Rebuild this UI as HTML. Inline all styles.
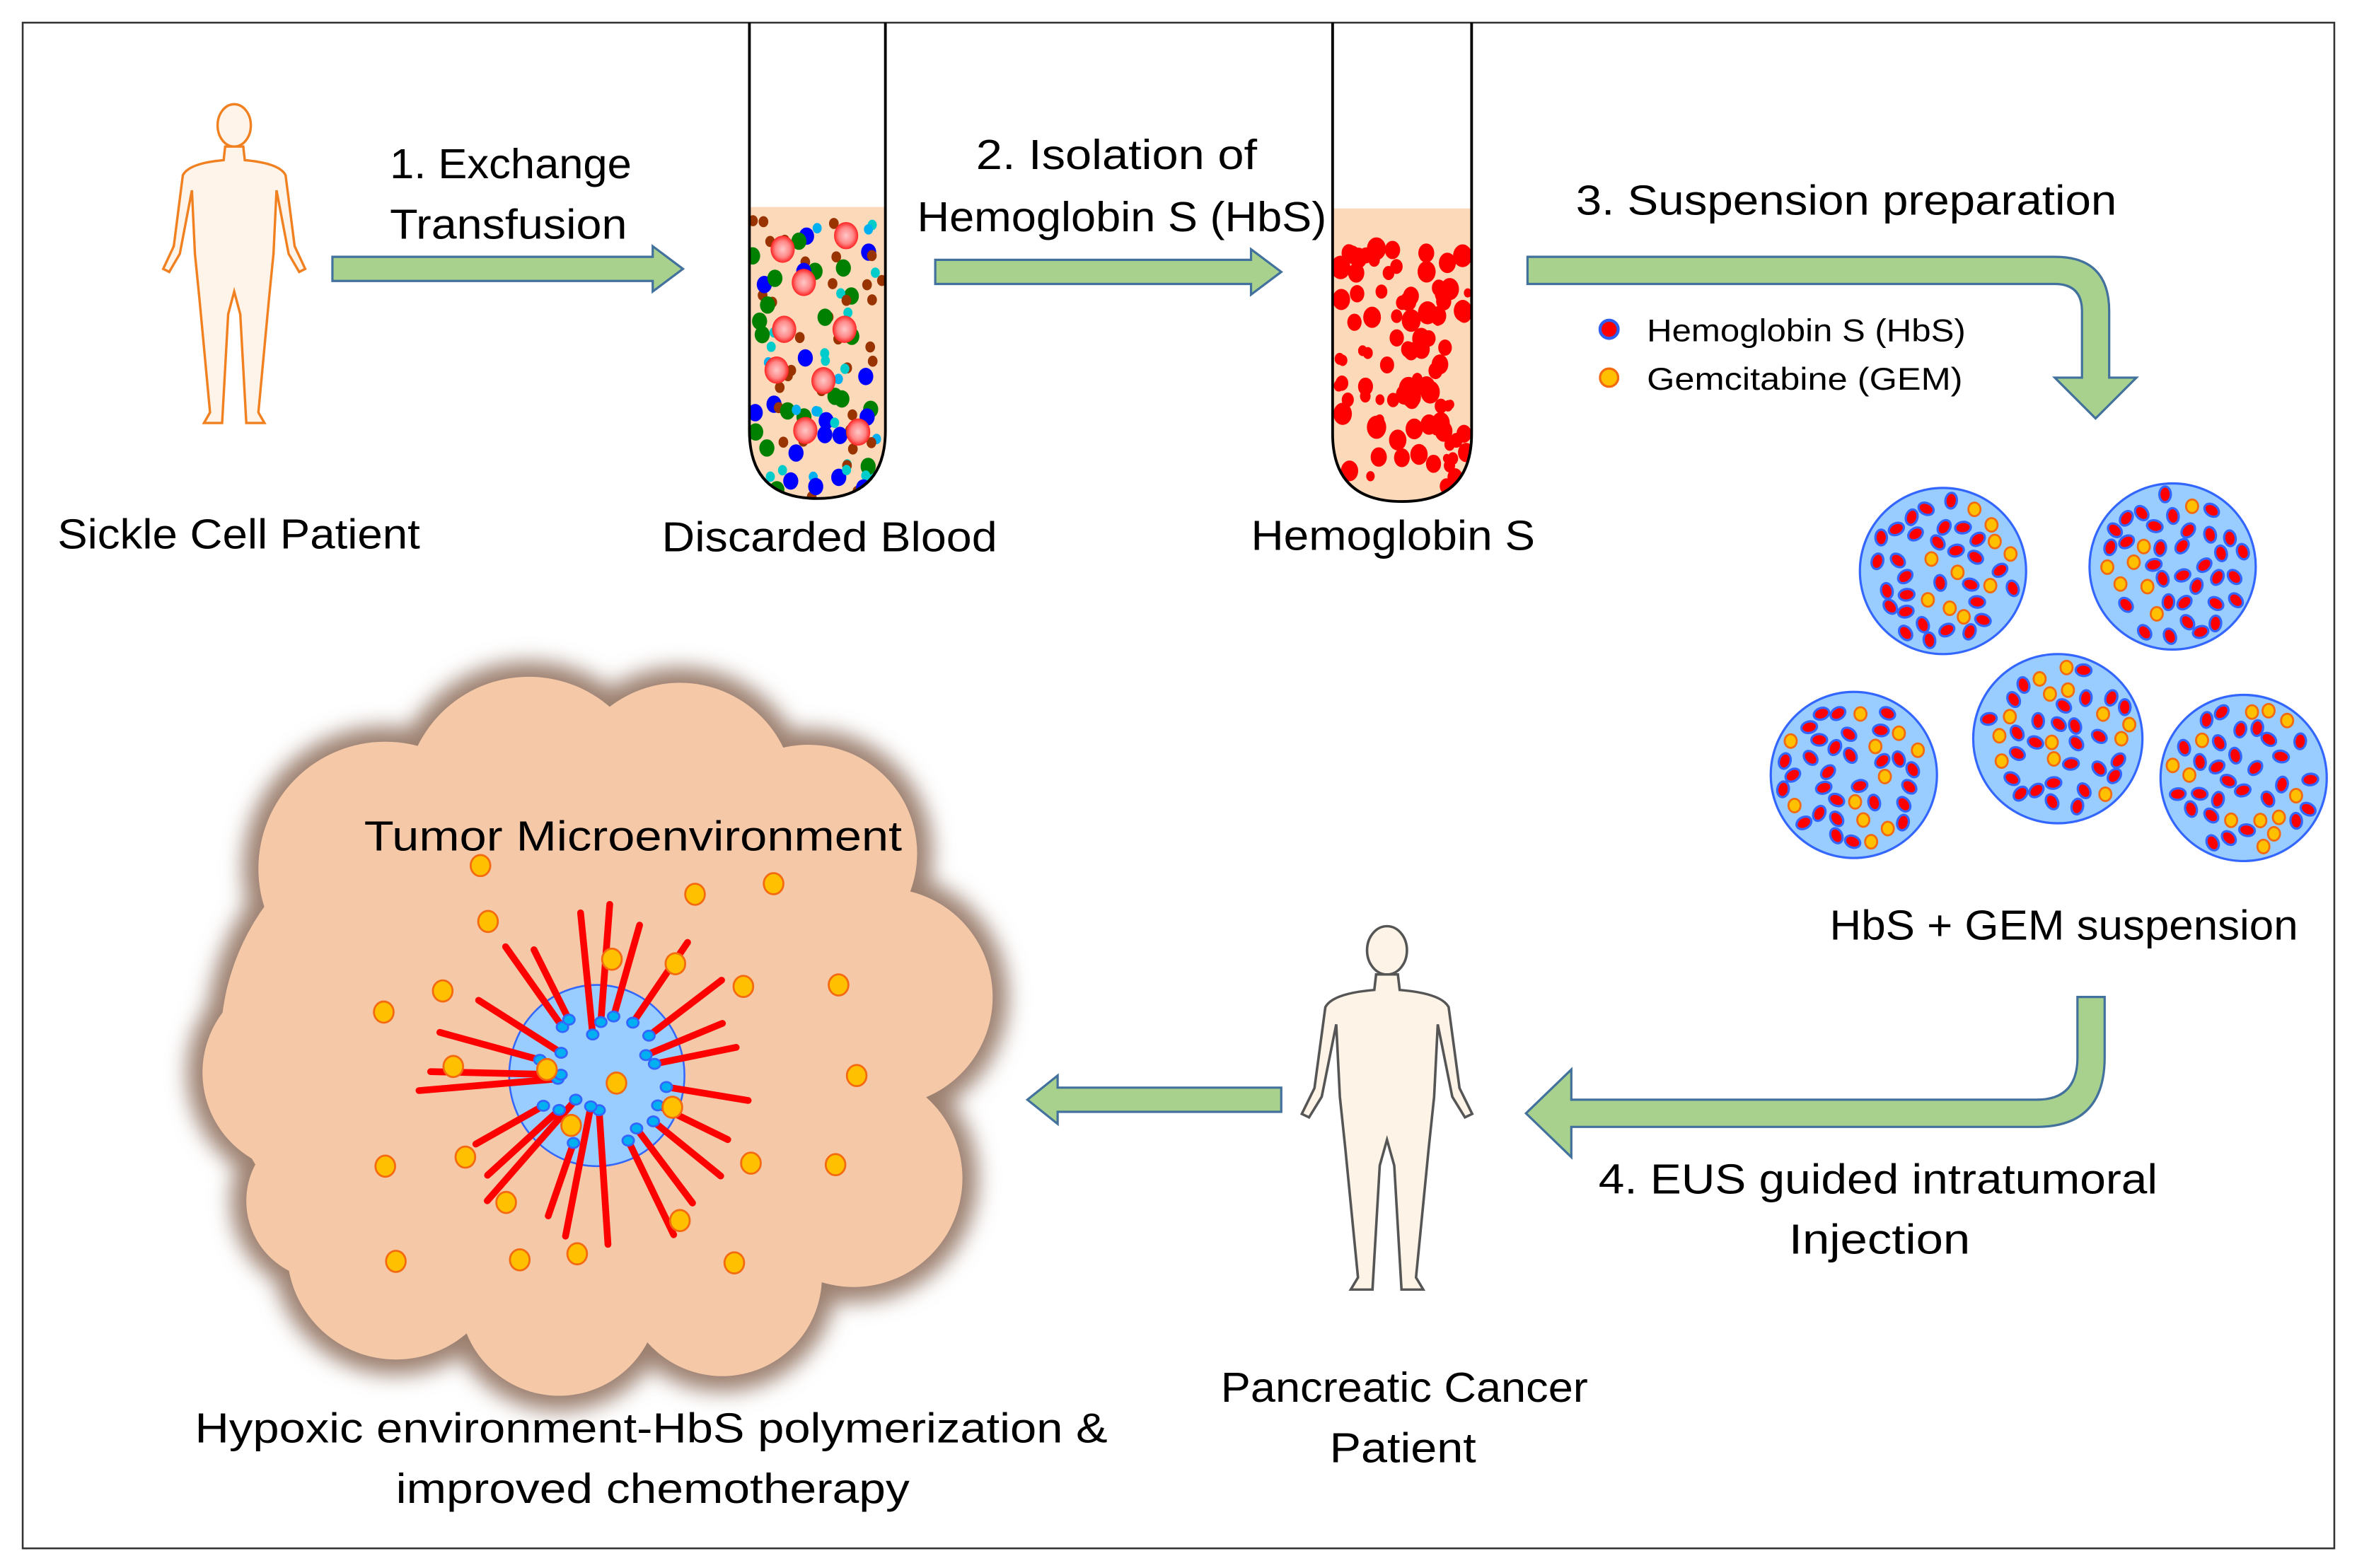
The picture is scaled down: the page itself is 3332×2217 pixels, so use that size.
<!DOCTYPE html>
<html><head><meta charset="utf-8"><style>
html,body{margin:0;padding:0;background:#fff;}
svg{display:block;}
text{font-family:"Liberation Sans",sans-serif;fill:#000;}
</style></head><body>
<svg id="s" width="3332" height="2217" viewBox="0 0 1560 1038" xmlns="http://www.w3.org/2000/svg">
<defs>
<radialGradient id="rbc" cx="50%" cy="50%" r="50%"><stop offset="0" stop-color="#ffc8c8"/><stop offset="0.6" stop-color="#f88"/><stop offset="1" stop-color="#f22"/></radialGradient>
<filter id="bl" x="-20%" y="-20%" width="140%" height="140%"><feGaussianBlur stdDeviation="7"/></filter>
<clipPath id="t1"><path d="M496,137 L586,137 L586,285 Q586,330 541,330 Q496,330 496,285 Z"/></clipPath>
<clipPath id="t2"><path d="M882,138 L974,138 L974,287 Q974,332 928,332 Q882,332 882,287 Z"/></clipPath>
</defs>
<rect x="15" y="15" width="1530" height="1010" fill="#fff" stroke="#333" stroke-width="1.2"/>

<g transform="translate(105,68) scale(1,1)" fill="#fff4ea" stroke="#f08020" stroke-width="1.6">
<ellipse cx="50" cy="15" rx="11" ry="14"/>
<path d="M44,29 L56,29 L57,38 Q80,40 84,48 L90,95 L97,110 L93,112 L86,100 L78,58 L76,100 L73,130 L66,205 L70,212 L58,212 L54,140 L50,125 L46,140 L42,212 L30,212 L34,205 L27,130 L24,100 L22,58 L14,100 L7,112 L3,110 L10,95 L16,48 Q20,40 43,38 Z"/>
</g>
<g transform="translate(858,612) scale(1.2,1.14)" fill="#fdf3e6" stroke="#555" stroke-width="1.4">
<ellipse cx="50" cy="15" rx="11" ry="14"/>
<path d="M44,29 L56,29 L57,38 Q80,40 84,48 L90,95 L97,110 L93,112 L86,100 L78,58 L76,100 L73,130 L66,205 L70,212 L58,212 L54,140 L50,125 L46,140 L42,212 L30,212 L34,205 L27,130 L24,100 L22,58 L14,100 L7,112 L3,110 L10,95 L16,48 Q20,40 43,38 Z"/>
</g>

<g fill="#a9d18e" stroke="#41719c" stroke-width="1.5">
<polygon points="220,170 432,170 432,163 452,178 432,193 432,186 220,186"/>
<polygon points="619,172 828,172 828,165 848,180 828,195 828,188 619,188"/>
<path d="M1011,170 L1360,170 Q1396,170 1396,206 L1396,250 L1414,250 L1387,277 L1360,250 L1378,250 L1378,206 Q1378,188 1360,188 L1011,188 Z"/>
<path d="M1393,660 L1393,700 Q1393,746 1348,746 L1040,746 L1040,766 L1010,737 L1040,708 L1040,728 L1348,728 Q1375,728 1375,700 L1375,660 Z"/>
<polygon points="848,720 700,720 700,712 680,728 700,744 700,736 848,736"/>
</g>

<path d="M496,137 L586,137 L586,285 Q586,330 541,330 Q496,330 496,285 Z" fill="#fcd9b9"/>
<g id="d1" clip-path="url(#t1)"></g>
<path d="M496,15 L496,285 Q496,330 541,330 Q586,330 586,285 L586,15" fill="none" stroke="#000" stroke-width="1.8"/>
<path d="M882,138 L974,138 L974,287 Q974,332 928,332 Q882,332 882,287 Z" fill="#fcd9b9"/>
<g id="d2" clip-path="url(#t2)"></g>
<path d="M882,15 L882,287 Q882,332 928,332 Q974,332 974,287 L974,15" fill="none" stroke="#000" stroke-width="1.8"/>

<circle cx="1065" cy="218" r="6" fill="#f00" stroke="#2e5ff0" stroke-width="2"/>
<circle cx="1065" cy="250" r="6" fill="#ffc000" stroke="#f46a10" stroke-width="1.5"/>

<g id="sp"></g>
<g id="cl"></g>
<g id="tm"></g>

<g font-size="28">
<text x="38" y="363" textLength="240" lengthAdjust="spacingAndGlyphs">Sickle Cell Patient</text>
<text x="258" y="118" textLength="160" lengthAdjust="spacingAndGlyphs">1. Exchange</text>
<text x="258" y="158" textLength="157" lengthAdjust="spacingAndGlyphs">Transfusion</text>
<text x="438" y="365" textLength="222" lengthAdjust="spacingAndGlyphs">Discarded Blood</text>
<text x="646" y="112" textLength="186" lengthAdjust="spacingAndGlyphs">2. Isolation of</text>
<text x="607" y="153" textLength="271" lengthAdjust="spacingAndGlyphs">Hemoglobin S (HbS)</text>
<text x="828" y="364" textLength="188" lengthAdjust="spacingAndGlyphs">Hemoglobin S</text>
<text x="1043" y="142" textLength="358" lengthAdjust="spacingAndGlyphs">3. Suspension preparation</text>
<text x="1211" y="622" textLength="310" lengthAdjust="spacingAndGlyphs">HbS + GEM suspension</text>
<text x="1058" y="790" textLength="370" lengthAdjust="spacingAndGlyphs">4. EUS guided intratumoral</text>
<text x="1184" y="830" textLength="120" lengthAdjust="spacingAndGlyphs">Injection</text>
<text x="808" y="928" textLength="243" lengthAdjust="spacingAndGlyphs">Pancreatic Cancer</text>
<text x="880" y="968" textLength="97" lengthAdjust="spacingAndGlyphs">Patient</text>
<text x="241" y="563" textLength="356" lengthAdjust="spacingAndGlyphs">Tumor Microenvironment</text>
<text x="129" y="955" textLength="604" lengthAdjust="spacingAndGlyphs">Hypoxic environment-HbS polymerization  &amp;</text>
<text x="262" y="995" textLength="340" lengthAdjust="spacingAndGlyphs">improved chemotherapy</text>
</g>
<g font-size="21">
<text x="1090" y="226" textLength="211" lengthAdjust="spacingAndGlyphs">Hemoglobin S (HbS)</text>
<text x="1090" y="258" textLength="209" lengthAdjust="spacingAndGlyphs">Gemcitabine (GEM)</text>
</g>
</svg>
<script>
(function(){
var NS="http://www.w3.org/2000/svg";
var seed=7;function R(){seed=(seed*16807)%2147483647;return (seed-1)/2147483646;}
function el(p,t,a){var e=document.createElementNS(NS,t);for(var k in a)e.setAttribute(k,a[k]);p.appendChild(e);return e;}
var d1=document.getElementById('d1');
var cols=['#993300','#993300','#0000ff','#00cccc','#00b0f0','#008000'];
for(var i=0;i<110;i++){var c=cols[Math.floor(R()*cols.length)];var r=c=='#993300'?3.2:(c=='#00b0f0'||c=='#00cccc'?3:5);
el(d1,'ellipse',{cx:498+R()*86,cy:145+R()*185,rx:r,ry:r*1.15,fill:c});}
var rb=[[518,165],[560,156],[532,187],[519,218],[559,218],[514,245],[545,252],[533,285],[568,286]];
rb.forEach(function(p){el(d1,'ellipse',{cx:p[0],cy:p[1],rx:8,ry:9,fill:'url(#rbc)'});});
var d2=document.getElementById('d2');
for(var i=0;i<95;i++){var r=2.5+R()*4;el(d2,'ellipse',{cx:884+R()*88,cy:160+R()*165,rx:r,ry:r*1.2,fill:'#f00'});}
var sp=document.getElementById('sp');
[[1286,378,55],[1438,375,55],[1227,513,55],[1362,489,56],[1485,515,55]].forEach(function(s){
el(sp,'circle',{cx:s[0],cy:s[1],r:s[2],fill:'#99ccff',stroke:'#3366ff','stroke-width':1.5});
var pts=[];var tries=0;
while(pts.length<40&&tries<3000){tries++;var a=R()*6.283,d=Math.sqrt(R())*(s[2]-7);var x=s[0]+Math.cos(a)*d,y=s[1]+Math.sin(a)*d;
var ok=true;for(var j=0;j<pts.length;j++){var dx=pts[j][0]-x,dy=pts[j][1]-y;if(dx*dx+dy*dy<110){ok=false;break;}}
if(ok)pts.push([x,y]);}
pts.forEach(function(p){var x=p[0],y=p[1];
if(R()<0.3){el(sp,'ellipse',{cx:x,cy:y,rx:4,ry:4.5,fill:'#ffc000',stroke:'#f46a10','stroke-width':1.3});}
else{el(sp,'ellipse',{cx:x,cy:y,rx:5.2,ry:3.8,fill:'#f00',stroke:'#3366ff','stroke-width':1.5,transform:'rotate('+(R()*180)+' '+x+' '+y+')'});}});
});
var cl=document.getElementById('cl');
var cc=[[255,575,90],[350,530,88],[450,528,82],[535,565,78],[585,660,78],[565,780,78],[478,845,72],[370,858,72],[262,828,78],[200,710,72],[215,795,58],[300,690,160],[450,700,160]];
var g1=el(cl,'g',{filter:'url(#bl)',fill:'#9c8070'});
cc.forEach(function(c){el(g1,'circle',{cx:c[0],cy:c[1],r:c[2]+4});});
var g2=el(cl,'g',{fill:'#f5c8a8'});
cc.forEach(function(c){el(g2,'circle',{cx:c[0],cy:c[1],r:c[2]-6});});
var tm=document.getElementById('tm');
var cx=395,cy=712;
el(tm,'ellipse',{cx:cx,cy:cy,rx:58,ry:60,fill:'#99ccff',stroke:'#3366ff','stroke-width':1.2});
for(var i=0;i<24;i++){var a=i/24*6.283+R()*0.2;var r0=20+R()*30,r1=90+R()*30;
el(tm,'line',{x1:cx+Math.cos(a)*r0,y1:cy+Math.sin(a)*r0,x2:cx+Math.cos(a)*r1,y2:cy+Math.sin(a)*r1,stroke:'#f00','stroke-width':4.5,'stroke-linecap':'round'});
el(tm,'ellipse',{cx:cx+Math.cos(a)*r0,cy:cy+Math.sin(a)*r0,rx:3.8,ry:3.3,fill:'#00b0f0',stroke:'#3366ff','stroke-width':1.3});}
var gem=[[318,573],[323,610],[460,592],[512,585],[254,670],[293,656],[405,635],[447,638],[492,653],[555,652],[567,712],[300,706],[362,708],[408,717],[445,733],[378,745],[255,772],[308,766],[335,796],[497,770],[553,771],[262,835],[344,834],[382,830],[450,808],[486,836]];
gem.forEach(function(p){el(tm,'ellipse',{cx:p[0],cy:p[1],rx:6.5,ry:7,fill:'#ffc000',stroke:'#f46a10','stroke-width':1.3});});
})();
</script>
</body></html>
